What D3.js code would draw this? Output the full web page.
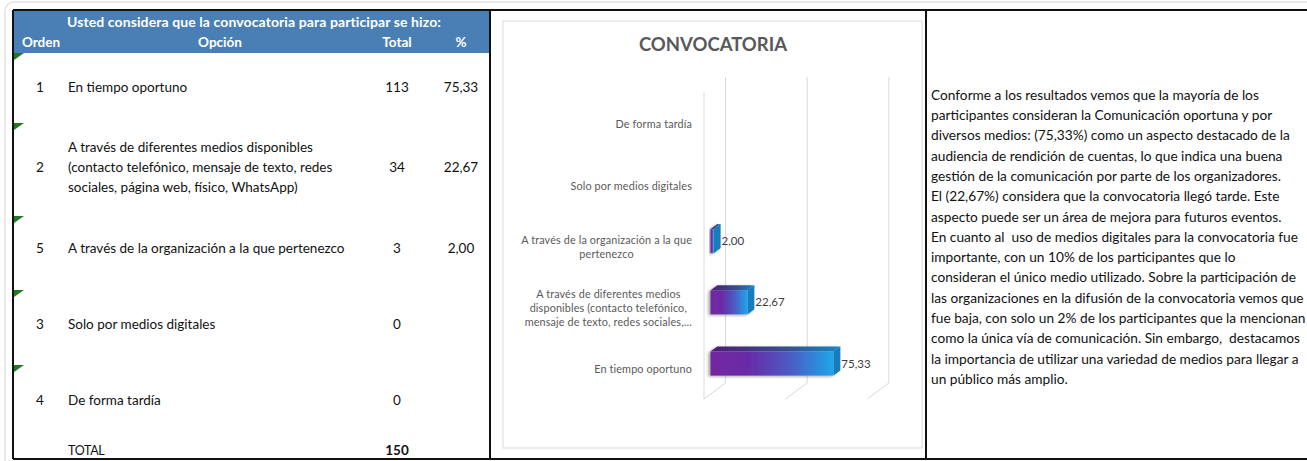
<!DOCTYPE html>
<html lang="es">
  <head>
    <meta charset="UTF-8" />
    <title>Convocatoria</title>
    <style>
      html,
      body {
        margin: 0;
        background: #fff;
      }
      svg {
        display: block;
        font-family: Lato, "Open Sans", sans-serif;
      }
    </style>
    <script src="https://cdn.jsdelivr.net/npm/d3@7"></script>
  </head>

  <body>
    <script>
      // datos de la tabla
      const orden = [1, 2, 5, 3, 4];
      const categorias = [
        "En tiempo oportuno",
        "A través de diferentes medios disponibles (contacto telefónico, mensaje de texto, redes sociales, página web, físico, WhatsApp)",
        "A través de la organización a la que pertenezco",
        "Solo por medios digitales",
        "De forma tardía",
      ];
      const totales = [113, 34, 3, 0, 0];
      const porcentajes = [75.33, 22.67, 2.0, 0, 0];
      const totalGeneral = 150;

      // textos partidos en lineas
      const opcionLineas = [
        ["En tiempo oportuno"],
        [
          "A través de diferentes medios disponibles",
          "(contacto telefónico, mensaje de texto, redes",
          "sociales, página web, físico, WhatsApp)",
        ],
        ["A través de la organización a la que pertenezco"],
        ["Solo por medios digitales"],
        ["De forma tardía"],
      ];
      const etiquetaLineas = [
        ["En tiempo oportuno"],
        [
          "A través de diferentes medios",
          "disponibles (contacto telefónico,",
          "mensaje de texto, redes sociales,…",
        ],
        ["A través de la organización a la que", "pertenezco"],
        ["Solo por medios digitales"],
        ["De forma tardía"],
      ];
      const gridTicks = [0, 50, 100];

      const comentario = [
        "Conforme a los resultados vemos que la mayoría de los",
        "participantes consideran la Comunicación oportuna y por",
        "diversos medios: (75,33%) como un aspecto destacado de la",
        "audiencia de rendición de cuentas, lo que indica una buena",
        "gestión de la comunicación por parte de los organizadores.",
        "El (22,67%) considera que la convocatoria llegó tarde. Este",
        "aspecto puede ser un área de mejora para futuros eventos.",
        "En cuanto al  uso de medios digitales para la convocatoria fue",
        "importante, con un 10% de los participantes que lo",
        "consideran el único medio utilizado. Sobre la participación de",
        "las organizaciones en la difusión de la convocatoria vemos que",
        "fue baja, con solo un 2% de los participantes que la mencionan",
        "como la única vía de comunicación. Sin embargo,  destacamos",
        "la importancia de utilizar una variedad de medios para llegar a",
        "un público más amplio.",
      ];

      const width = 1307;
      const height = 461;
      const fmt = (v) => d3.format(".2f")(v).replace(".", ",");

      const svg = d3
        .select("body")
        .append("svg")
        .attr("width", width)
        .attr("height", height);

      // marco exterior tipo tarjeta
      svg
        .append("rect")
        .attr("x", 5)
        .attr("y", 2)
        .attr("width", 1320)
        .attr("height", 480)
        .attr("rx", 9)
        .attr("fill", "none")
        .attr("stroke", "#e2e2e2")
        .attr("stroke-width", 1.5);

      // ---------- tabla ----------
      const tabla = svg.append("g");
      tabla
        .append("rect")
        .attr("x", 13)
        .attr("y", 10)
        .attr("width", 477)
        .attr("height", 43)
        .attr("fill", "#4a7fb6");

      tabla
        .append("text")
        .attr("x", 254)
        .attr("y", 27)
        .attr("text-anchor", "middle")
        .attr("fill", "#fff")
        .attr("font-weight", "bold")
        .attr("font-size", 14)
        .attr("letter-spacing", 0.1)
        .text("Usted considera que la convocatoria para participar se hizo:");

      const cabecera = [
        { t: "Orden", x: 41 },
        { t: "Opción", x: 220 },
        { t: "Total", x: 397 },
        { t: "%", x: 461 },
      ];
      tabla
        .selectAll(".cab")
        .data(cabecera)
        .enter()
        .append("text")
        .attr("class", "cab")
        .attr("x", (d) => d.x)
        .attr("y", 47)
        .attr("text-anchor", "middle")
        .attr("fill", "#fff")
        .attr("font-weight", "bold")
        .attr("font-size", 13.5)
        .text((d) => d.t);

      // indicadores verdes de excel
      const marcas = [53, 123, 216, 290, 365];
      tabla
        .selectAll(".marca")
        .data(marcas)
        .enter()
        .append("path")
        .attr("d", (y) => `M14,${y}L24,${y}L14,${y + 7}Z`)
        .attr("fill", "#1f7a1f");

      const filaY = [87, 167, 248, 324, 400];
      const filas = tabla
        .selectAll(".fila")
        .data(categorias)
        .enter()
        .append("g")
        .attr("class", "fila")
        .attr("font-size", 13.5)
        .attr("fill", "#111");

      filas
        .append("text")
        .attr("x", 40)
        .attr("y", (d, i) => filaY[i])
        .attr("dy", "0.35em")
        .attr("text-anchor", "middle")
        .text((d, i) => orden[i]);

      filas.each(function (d, i) {
        const lineas = opcionLineas[i];
        d3.select(this)
          .selectAll(".op")
          .data(lineas)
          .enter()
          .append("text")
          .attr("x", 68)
          .attr("y", (l, j) => filaY[i] + (j - (lineas.length - 1) / 2) * 20)
          .attr("dy", "0.35em")
          .text((l) => l);
      });

      filas
        .append("text")
        .attr("x", 397)
        .attr("y", (d, i) => filaY[i])
        .attr("dy", "0.35em")
        .attr("text-anchor", "middle")
        .text((d, i) => totales[i]);

      filas
        .filter((d, i) => porcentajes[i] > 0)
        .append("text")
        .attr("x", 461)
        .attr("y", (d) => filaY[categorias.indexOf(d)])
        .attr("dy", "0.35em")
        .attr("text-anchor", "middle")
        .text((d) => fmt(porcentajes[categorias.indexOf(d)]));

      tabla
        .append("text")
        .attr("x", 68)
        .attr("y", 455)
        .attr("font-size", 12.5)
        .attr("fill", "#111")
        .attr("letter-spacing", -0.3)
        .text("TOTAL");
      tabla
        .append("text")
        .attr("x", 397)
        .attr("y", 455)
        .attr("text-anchor", "middle")
        .attr("font-size", 13.5)
        .attr("font-weight", "bold")
        .attr("fill", "#111")
        .text(totalGeneral);

      // ---------- grafico 3D ----------
      const chart = svg.append("g");
      chart
        .append("rect")
        .attr("x", 503)
        .attr("y", 21)
        .attr("width", 419)
        .attr("height", 427)
        .attr("fill", "#fff")
        .attr("stroke", "#d9d9d9");

      chart
        .append("text")
        .attr("x", 713)
        .attr("y", 51)
        .attr("text-anchor", "middle")
        .attr("font-weight", "bold")
        .attr("font-size", 18.5)
        .attr("fill", "#595959")
        .text("CONVOCATORIA");

      // profundidad del plano 3D
      const prof = { dx: 21.5, dy: -16 };
      const xScale = d3.scaleLinear().domain([0, 100]).range([704, 867.3]);
      const yScale = d3
        .scaleBand()
        .domain(categorias.slice().reverse())
        .range([93, 399]);
      const yBottom = yScale.range()[1];
      const yTop = yScale.range()[0];

      // pared del fondo y piso
      chart
        .selectAll(".grid")
        .data(gridTicks)
        .enter()
        .append("line")
        .attr("x1", (d) => xScale(d) + prof.dx)
        .attr("x2", (d) => xScale(d) + prof.dx)
        .attr("y1", yTop + prof.dy)
        .attr("y2", yBottom + prof.dy)
        .attr("stroke", "#d9d9d9");
      chart
        .selectAll(".piso")
        .data(gridTicks)
        .enter()
        .append("line")
        .attr("x1", (d) => xScale(d))
        .attr("x2", (d) => xScale(d) + prof.dx)
        .attr("y1", yBottom)
        .attr("y2", yBottom + prof.dy)
        .attr("stroke", "#d9d9d9");
      chart
        .append("line")
        .attr("x1", xScale(0))
        .attr("x2", xScale(0))
        .attr("y1", yTop)
        .attr("y2", yBottom)
        .attr("stroke", "#d9d9d9");

      // gradientes
      const defs = svg.append("defs");
      function grad(id, stops) {
        const g = defs
          .append("linearGradient")
          .attr("id", id)
          .attr("x1", 0)
          .attr("x2", 1)
          .attr("y1", 0)
          .attr("y2", 0);
        stops.forEach((s) =>
          g.append("stop").attr("offset", s[0]).attr("stop-color", s[1])
        );
      }
      grad("gFrente", [
        [0, "#7328a0"],
        [0.3, "#6a2aa6"],
        [0.65, "#4b5cc4"],
        [1, "#1ea6ea"],
      ]);
      grad("gTapa", [
        [0, "#4c1d72"],
        [0.6, "#36508f"],
        [1, "#1788c4"],
      ]);
      const fSombra = defs.append("filter").attr("id", "sombra");
      fSombra
        .append("feDropShadow")
        .attr("dx", -2)
        .attr("dy", 1)
        .attr("stdDeviation", 1.8)
        .attr("flood-color", "#000")
        .attr("flood-opacity", 0.35);

      const f1 = 0.3;
      const f2 = 0.62;
      const altoBarra = 24;
      const ddx = prof.dx * (f2 - f1);
      const ddy = prof.dy * (f2 - f1);

      const conValor = categorias.filter((d, i) => porcentajes[i] > 0);
      const barras = chart
        .selectAll(".barra")
        .data(conValor)
        .enter()
        .append("g")
        .attr("class", "barra")
        .attr("filter", "url(#sombra)");

      const geo = (d) => {
        const v = porcentajes[categorias.indexOf(d)];
        const x0 = xScale(0) + prof.dx * f1;
        const x1 = xScale(v) + prof.dx * f1;
        const yc = yScale(d) + yScale.bandwidth() / 2 + prof.dy * f1;
        return { x0, x1, y0: yc - altoBarra / 2, y1: yc + altoBarra / 2, yc };
      };

      barras
        .append("path")
        .attr("d", (d) => {
          const g = geo(d);
          return `M${g.x0},${g.y0}L${g.x1},${g.y0}L${g.x1 + ddx},${g.y0 + ddy}L${g.x0 + ddx},${g.y0 + ddy}Z`;
        })
        .attr("fill", "url(#gTapa)");
      barras
        .append("path")
        .attr("d", (d) => {
          const g = geo(d);
          return `M${g.x1},${g.y0}L${g.x1 + ddx},${g.y0 + ddy}L${g.x1 + ddx},${g.y1 + ddy}L${g.x1},${g.y1}Z`;
        })
        .attr("fill", "#137cbc");
      barras
        .append("rect")
        .attr("x", (d) => geo(d).x0)
        .attr("y", (d) => geo(d).y0)
        .attr("width", (d) => geo(d).x1 - geo(d).x0)
        .attr("height", altoBarra)
        .attr("fill", "url(#gFrente)");

      // etiquetas de datos
      chart
        .selectAll(".valor")
        .data(conValor)
        .enter()
        .append("text")
        .attr("x", (d) => geo(d).x1 + ddx + 1)
        .attr("y", (d) => geo(d).yc)
        .attr("dy", "0.35em")
        .attr("font-size", 11.5)
        .attr("fill", "#404040")
        .text((d) => fmt(porcentajes[categorias.indexOf(d)]));

      // etiquetas de categoria
      const derecha = 692;
      categorias.forEach((c, i) => {
        const lineas = etiquetaLineas[i];
        const g = chart
          .append("text")
          .attr("font-size", 10.8)
          .attr("letter-spacing", 0.15)
          .attr("fill", "#595959")
          .attr("text-anchor", "middle");
        const cy = yScale(c) + yScale.bandwidth() / 2 + 1;
        const ts = lineas.map((l, j) =>
          g
            .append("tspan")
            .attr("y", cy + (j - (lineas.length - 1) / 2) * 14)
            .attr("dy", "0.35em")
            .text(l)
        );
        const maxW = d3.max(ts, (t) => t.node().getComputedTextLength());
        ts.forEach((t) => t.attr("x", derecha - maxW / 2));
      });

      // ---------- comentario ----------
      svg
        .append("g")
        .selectAll("text")
        .data(comentario)
        .enter()
        .append("text")
        .attr("x", 931)
        .attr("y", (d, i) => 95 + i * 20.3)
        .attr("dy", "0.35em")
        .attr("font-size", 13.7)
        .attr("fill", "#111")
        .style("white-space", "pre")
        .text((d) => d);

      // ---------- bordes negros ----------
      const bordes = [
        [13, 10, 1320, 10],
        [13, 459, 1320, 459],
        [13, 10, 13, 459],
        [490, 10, 490, 459],
        [926, 10, 926, 459],
      ];
      svg
        .selectAll(".borde")
        .data(bordes)
        .enter()
        .append("line")
        .attr("x1", (d) => d[0])
        .attr("y1", (d) => d[1])
        .attr("x2", (d) => d[2])
        .attr("y2", (d) => d[3])
        .attr("stroke", "#111")
        .attr("stroke-width", 2);
    </script>
  </body>
</html>
